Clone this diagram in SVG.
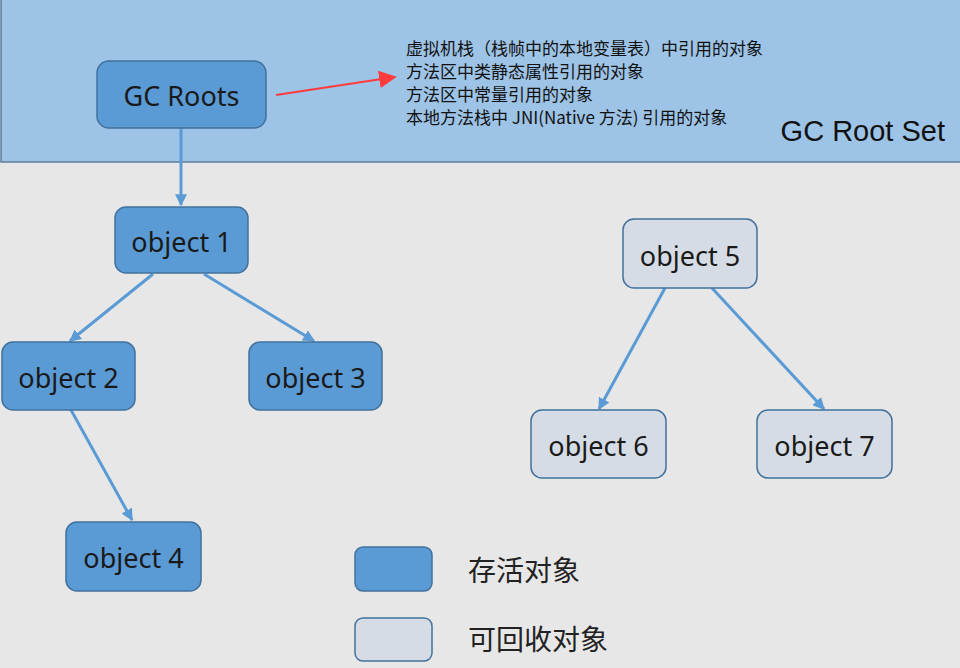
<svg xmlns="http://www.w3.org/2000/svg" width="960" height="668" viewBox="0 0 960 668">
<style>
.live{fill:#5b9bd5;stroke:#41719c;stroke-width:1.5}
.dead{fill:#d6dce5;stroke:#41719c;stroke-width:1.5}
.lbl{font-family:"Noto Sans","Noto Sans CJK SC",sans-serif;font-size:27px;fill:#1a1a1a;text-anchor:middle;dominant-baseline:central}
.note{font-family:"Noto Sans CJK SC","Noto Sans",sans-serif;font-size:17px;fill:#111}
.leg{font-family:"Noto Sans CJK SC",sans-serif;font-size:28px;fill:#222;dominant-baseline:central}
.conn{stroke:#5b9bd5;stroke-width:3;fill:none;marker-end:url(#ah)}
</style>
<defs>
<marker id="ah" viewBox="0 0 10 10" refX="9" refY="5" markerWidth="4" markerHeight="4" orient="auto" markerUnits="strokeWidth">
<path d="M0,0 L10,5 L0,10 z" fill="#5b9bd5"/>
</marker>
<marker id="rah" viewBox="0 0 10 10" refX="9" refY="5" markerWidth="8" markerHeight="8" orient="auto" markerUnits="strokeWidth">
<path d="M0,0 L10,5 L0,10 z" fill="#ff3b3b"/>
</marker>
</defs>
<rect x="0" y="0" width="960" height="668" fill="#e7e7e7"/>
<g id="root-set">
<rect x="1" y="-2" width="962" height="164" fill="#9dc3e6" stroke="#5f7d9c" stroke-width="1.5"/>
<text x="945" y="141" font-family="Liberation Sans,Arial,sans-serif" font-size="29" fill="#111" text-anchor="end">GC Root Set</text>
<text class="note" x="406" y="55">虚拟机栈（栈帧中的本地变量表）中引用的对象</text>
<text class="note" x="406" y="78">方法区中类静态属性引用的对象</text>
<text class="note" x="406" y="101">方法区中常量引用的对象</text>
<text class="note" x="406" y="124">本地方法栈中 JNI(Native 方法) 引用的对象</text>
</g>
<g id="connectors">
<line x1="276" y1="95" x2="395" y2="77" stroke="#ff3b3b" stroke-width="2.2" marker-end="url(#rah)"/>
<line class="conn" x1="181" y1="128" x2="181" y2="205"/>
<line class="conn" x1="153" y1="274" x2="70" y2="341"/>
<line class="conn" x1="204" y1="274" x2="314" y2="341"/>
<line class="conn" x1="71" y1="410" x2="132" y2="520"/>
<line class="conn" x1="665" y1="288" x2="599" y2="409"/>
<line class="conn" x1="712" y1="288" x2="824" y2="409"/>
</g>
<g id="gc-roots"><rect class="live" x="97" y="61" width="169" height="67" rx="12"/><text class="lbl" x="181.5" y="95">GC Roots</text></g>
<g id="object1"><rect class="live" x="115" y="207" width="133" height="66" rx="11"/><text class="lbl" x="181.5" y="241">object 1</text></g>
<g id="object2"><rect class="live" x="2" y="342" width="133" height="68" rx="11"/><text class="lbl" x="68.5" y="377">object 2</text></g>
<g id="object3"><rect class="live" x="249" y="342" width="133" height="68" rx="11"/><text class="lbl" x="315.5" y="377">object 3</text></g>
<g id="object4"><rect class="live" x="66" y="522" width="135" height="69" rx="11"/><text class="lbl" x="133.5" y="557">object 4</text></g>
<g id="object5"><rect class="dead" x="623" y="219" width="134" height="69" rx="11"/><text class="lbl" x="690" y="255">object 5</text></g>
<g id="object6"><rect class="dead" x="531" y="410" width="135" height="68" rx="11"/><text class="lbl" x="598.5" y="445">object 6</text></g>
<g id="object7"><rect class="dead" x="757" y="410" width="135" height="68" rx="11"/><text class="lbl" x="824.5" y="445">object 7</text></g>
<g id="legend">
<rect class="live" x="355" y="547" width="77" height="44" rx="8"/>
<text class="leg" x="468" y="569">存活对象</text>
<rect class="dead" x="355" y="618" width="77" height="43" rx="8"/>
<text class="leg" x="468" y="638">可回收对象</text>
</g>
</svg>
